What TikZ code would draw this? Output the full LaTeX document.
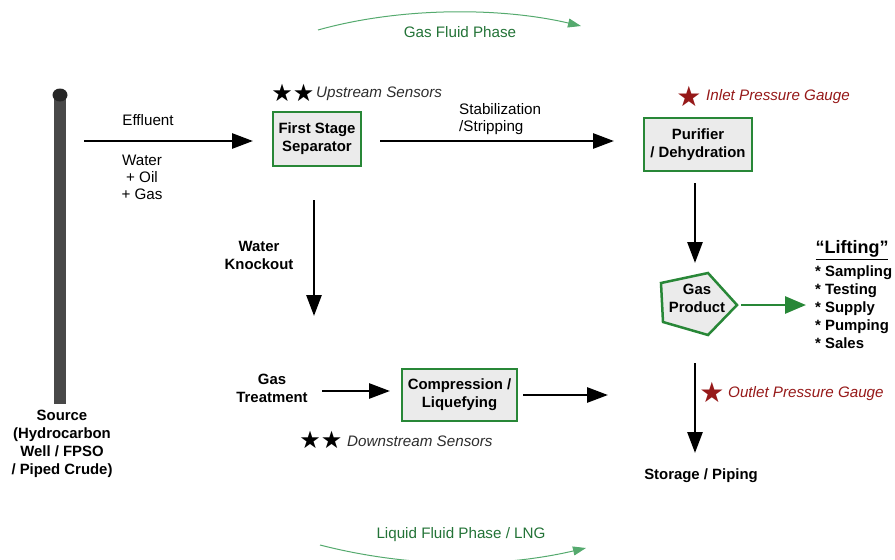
\documentclass[tikz,border=0pt]{standalone}
\usepackage{fontspec}
\setmainfont{Liberation Sans}
\newfontfamily\symfont{DejaVu Sans}
\usetikzlibrary{arrows.meta}
\definecolor{boxgreen}{RGB}{40,135,55}
\definecolor{boxfill}{RGB}{235,235,235}
\definecolor{txtgreen}{RGB}{35,115,55}
\definecolor{arcgreen}{RGB}{85,170,110}
\definecolor{gaugered}{RGB}{150,25,25}
\definecolor{pipegray}{RGB}{72,72,72}
\definecolor{notegray}{RGB}{45,45,45}
\begin{document}
\begin{tikzpicture}[x=1pt,y=-1pt,
  font=\fontsize{15.2}{17.5}\selectfont,
  flow/.style={line width=2.8pt,-{Triangle[length=21pt,width=15pt]}},
  greenflow/.style={draw=boxgreen,line width=2.8pt,-{Triangle[length=21pt,width=17pt]}},
  phasearc/.style={draw=arcgreen,line width=1pt,-{Triangle[length=13pt,width=9pt]}},
  procbox/.style={draw=boxgreen,fill=boxfill,line width=2.5pt,
    font=\fontsize{14.9}{18}\selectfont\bfseries,align=center,inner sep=0pt},
  boldlabel/.style={font=\fontsize{14.9}{18}\selectfont\bfseries,align=center},
  plainlabel/.style={font=\fontsize{15.2}{17}\selectfont,align=center},
  sensor/.style={font=\fontsize{15.2}{17}\selectfont\itshape,text=notegray,anchor=west,inner sep=0pt},
  gauge/.style={font=\fontsize{15.2}{17}\selectfont\itshape,text=gaugered,anchor=west,inner sep=0pt},
  phaselabel/.style={font=\fontsize{15.2}{17}\selectfont,text=txtgreen},
  starsym/.style={font=\symfont\fontsize{24}{24}\selectfont,inner sep=0pt},
  bigstar/.style={font=\symfont\fontsize{28}{28}\selectfont,inner sep=0pt,text=gaugered}
]
\useasboundingbox (0,0) rectangle (895,560);

% source pipe
\fill[pipegray] (54,95) rectangle (66,404);
\fill[black!85] (60,95) ellipse [x radius=7.5pt, y radius=6.5pt];
\node[boldlabel] (source) at (62,444) {Source\\(Hydrocarbon\\Well / FPSO\\/ Piped Crude)};

% effluent
\coordinate (effA) at (84,141);
\coordinate (effB) at (253,141);
\draw[flow] (effA) -- (effB);
\node[plainlabel] (effluent) at (148,120) {Effluent};
\node[plainlabel] (mix) at (142,177) {Water\\+ Oil\\+ Gas};

% first stage separator
\node[procbox,minimum width=88pt,minimum height=54pt] (sep) at (317,139) {First Stage\\Separator};
\node[starsym] (upstars) at (293,93) {★★};
\node[sensor] (uplabel) at (316,94) {Upstream Sensors};

% stabilization
\coordinate (stabA) at (380,141);
\coordinate (stabB) at (614,141);
\draw[flow] (stabA) -- (stabB);
\node[plainlabel,align=left,anchor=west,inner sep=0pt] (stab) at (459,119) {Stabilization\\/Stripping};

% purifier
\node[procbox,minimum width=108pt,minimum height=53pt] (pur) at (698,144.5) {Purifier\\/ Dehydration};
\node[bigstar] (instar) at (689,96) {★};
\node[gauge] (inlabel) at (706,97) {Inlet Pressure Gauge};

% purifier -> gas product
\coordinate (purA) at (695,183);
\coordinate (purB) at (695,263);
\draw[flow] (purA) -- (purB);

% gas product pentagon
\filldraw[draw=boxgreen,fill=boxfill,line width=2.5pt,line join=miter]
  (708,273) -- (661,283) -- (663,322) -- (708,335) -- (737,305) -- cycle;
\node[boldlabel] (gasprod) at (697,298) {Gas\\Product};

% lifting
\coordinate (liftA) at (741,305);
\coordinate (liftB) at (806,305);
\draw[greenflow] (liftA) -- (liftB);
\node[font=\fontsize{18}{20}\selectfont\bfseries] (lifting) at (852,250) {\underline{“Lifting”}};
\node[font=\fontsize{14.9}{18}\selectfont\bfseries,align=left,anchor=north west,inner sep=0pt] (liftlist) at (815,265)
  {* Sampling\\* Testing\\* Supply\\* Pumping\\* Sales};

% outlet
\coordinate (outA) at (695,363);
\coordinate (outB) at (695,453);
\draw[flow] (outA) -- (outB);
\node[bigstar] (outstar) at (712,392) {★};
\node[gauge] (outlabel) at (728,394) {Outlet Pressure Gauge};
\node[boldlabel] (storage) at (701,476) {Storage / Piping};

% water knockout
\coordinate (koA) at (314,200);
\coordinate (koB) at (314,316);
\draw[flow] (koA) -- (koB);
\node[boldlabel] (knockout) at (259,255) {Water\\Knockout};

% gas treatment
\node[boldlabel] (treat) at (272,388) {Gas\\Treatment};
\coordinate (trA) at (322,391);
\coordinate (trB) at (390,391);
\draw[flow] (trA) -- (trB);

% compression
\node[procbox,minimum width=115pt,minimum height=52pt] (comp) at (459.5,395) {Compression /\\Liquefying};
\coordinate (cmA) at (523,395);
\coordinate (cmB) at (608,395);
\draw[flow] (cmA) -- (cmB);
\node[starsym] (downstars) at (321,440) {★★};
\node[sensor] (downlabel) at (347,441) {Downstream Sensors};

% phase arcs
\coordinate (gasArcA) at (318,30);
\coordinate (gasArcB) at (581,26);
\draw[phasearc] (gasArcA) .. controls (400,7) and (500,7) .. (gasArcB);
\node[phaselabel] (gasphase) at (460,32) {Gas Fluid Phase};

\coordinate (liqArcA) at (320,545);
\coordinate (liqArcB) at (586,548);
\draw[phasearc] (liqArcA) .. controls (410,568) and (500,568) .. (liqArcB);
\node[phaselabel] (liqphase) at (461,535) {Liquid Fluid Phase / LNG};
\end{tikzpicture}
\end{document}
